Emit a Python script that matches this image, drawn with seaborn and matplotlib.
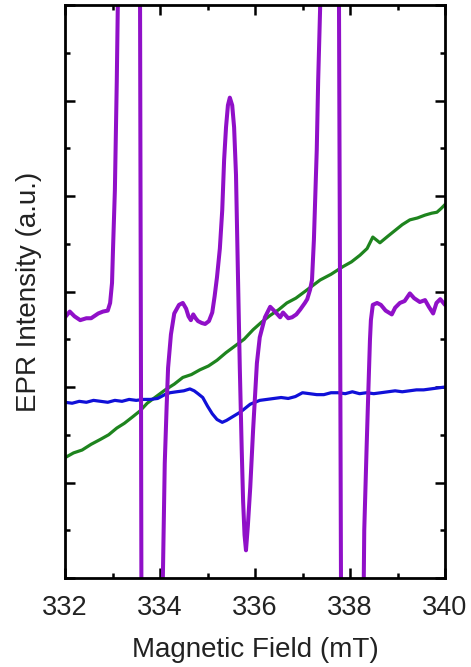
import numpy as np
import pandas as pd
import seaborn as sns
import matplotlib
matplotlib.use("Agg")
from matplotlib import pyplot as plt
from matplotlib.ticker import MultipleLocator

# magnetic field (mT) and intensity (a.u.)
green_x = [332.00, 332.18, 332.36, 332.55, 332.74, 332.92, 333.09, 333.25, 333.43, 333.58,
           333.73, 333.92, 334.11, 334.30, 334.48, 334.66, 334.84, 335.02, 335.20, 335.39,
           335.58, 335.77, 335.96, 336.14, 336.32, 336.50, 336.67, 336.86, 337.05, 337.21,
           337.37, 337.60, 337.85, 338.03, 338.21, 338.36, 338.48, 338.63, 338.80, 338.95,
           339.10, 339.26, 339.42, 339.58, 339.72, 339.83, 339.92, 340.00]
green_y = [1.26, 1.31, 1.34, 1.40, 1.45, 1.50, 1.57, 1.62, 1.69, 1.75,
           1.83, 1.90, 1.97, 2.03, 2.10, 2.13, 2.18, 2.22, 2.28, 2.36,
           2.43, 2.50, 2.60, 2.68, 2.75, 2.81, 2.88, 2.93, 3.00, 3.06,
           3.12, 3.18, 3.26, 3.31, 3.38, 3.45, 3.57, 3.51, 3.58, 3.64,
           3.70, 3.75, 3.77, 3.80, 3.82, 3.83, 3.87, 3.91]

blue_x = [332.00, 332.15, 332.30, 332.45, 332.60, 332.75, 332.90, 333.05, 333.20, 333.35,
          333.50, 333.65, 333.80, 333.95, 334.10, 334.21, 334.35, 334.50, 334.63, 334.72,
          334.80, 334.90, 335.00, 335.10, 335.20, 335.31, 335.40, 335.50, 335.60, 335.70,
          335.80, 335.90, 336.00, 336.10, 336.25, 336.40, 336.55, 336.70, 336.85, 337.00,
          337.15, 337.30, 337.45, 337.60, 337.75, 337.90, 338.05, 338.20, 338.35, 338.50,
          338.65, 338.80, 338.95, 339.10, 339.25, 339.40, 339.55, 339.70, 339.85, 340.00]
blue_y = [1.84, 1.83, 1.85, 1.84, 1.86, 1.85, 1.84, 1.86, 1.85, 1.87,
          1.86, 1.87, 1.87, 1.88, 1.92, 1.94, 1.95, 1.96, 1.98, 1.96,
          1.93, 1.89, 1.80, 1.72, 1.66, 1.63, 1.65, 1.68, 1.71, 1.74,
          1.78, 1.82, 1.84, 1.86, 1.87, 1.88, 1.89, 1.88, 1.90, 1.94,
          1.93, 1.92, 1.92, 1.94, 1.94, 1.93, 1.95, 1.93, 1.94, 1.93,
          1.94, 1.95, 1.96, 1.95, 1.96, 1.97, 1.97, 1.98, 1.99, 2.00]

purple_x = [332.00, 332.10, 332.20, 332.32, 332.45, 332.55, 332.70, 332.80, 332.90, 332.95,
            332.99, 333.01, 333.05, 333.09, 333.12, 333.20, 333.35, 333.50, 333.57, 333.60,
            333.62, 333.70, 333.90, 334.03, 334.06, 334.10, 334.14, 334.17, 334.23, 334.30,
            334.40, 334.48, 334.55, 334.60, 334.65, 334.70, 334.75, 334.80, 334.88, 334.95,
            335.03, 335.10, 335.15, 335.20, 335.26, 335.31, 335.35, 335.39, 335.43, 335.47,
            335.52, 335.56, 335.60, 335.64, 335.68, 335.72, 335.75, 335.78, 335.81, 335.85,
            335.90, 335.96, 336.04, 336.10, 336.21, 336.32, 336.42, 336.53, 336.59, 336.70,
            336.78, 336.87, 336.95, 337.05, 337.10, 337.16, 337.20, 337.24, 337.28, 337.30,
            337.33, 337.37, 337.45, 337.60, 337.75, 337.79, 337.83, 337.95, 338.20, 338.27,
            338.30, 338.35, 338.38, 338.42, 338.44, 338.48, 338.57, 338.65, 338.75, 338.88,
            338.95, 339.05, 339.15, 339.26, 339.35, 339.47, 339.58, 339.66, 339.75, 339.82,
            339.90, 340.00]
purple_y = [2.73, 2.79, 2.74, 2.70, 2.72, 2.72, 2.77, 2.79, 2.80, 2.88,
            3.09, 3.43, 4.06, 5.20, 6.30, 9.00, 11.0, 10.0, 8.00, 2.00,
            -3.0, -5.0, -5.0, -2.0, 0.00, 1.20, 1.80, 2.20, 2.55, 2.77,
            2.86, 2.88, 2.82, 2.74, 2.70, 2.76, 2.72, 2.69, 2.67, 2.66,
            2.69, 2.78, 2.95, 3.15, 3.45, 3.85, 4.38, 4.72, 4.95, 5.03,
            4.95, 4.72, 4.22, 3.20, 2.20, 1.35, 0.80, 0.45, 0.29, 0.55,
            0.95, 1.55, 2.25, 2.52, 2.73, 2.84, 2.79, 2.73, 2.78, 2.72,
            2.73, 2.76, 2.81, 2.88, 2.92, 3.02, 3.12, 3.54, 4.17, 4.48,
            5.21, 5.95, 8.00, 10.5, 8.50, 3.00, -3.0, -5.0, -5.0, -1.0,
            0.50, 1.37, 1.86, 2.49, 2.70, 2.86, 2.88, 2.86, 2.80, 2.76,
            2.83, 2.88, 2.90, 2.98, 2.93, 2.89, 2.91, 2.84, 2.77, 2.88,
            2.92, 2.86]

sns.set_theme(style="ticks")
plt.rcParams['font.family'] = ['Liberation Sans', 'DejaVu Sans']

fig = plt.figure(figsize=(4.71, 6.67), dpi=100)
ax = fig.add_axes([65/471, 89/667, 380/471, 573/667])

for xs, ys, col, lw in [(green_x, green_y, '#1E841E', 2.3),
                        (blue_x, blue_y, '#1010D8', 2.3),
                        (purple_x, purple_y, '#9010C8', 2.9)]:
    df = pd.DataFrame({"field": xs, "intensity": ys})
    sns.lineplot(data=df, x="field", y="intensity", color=col, lw=lw,
                 estimator=None, sort=False, ax=ax)

ax.set_xlim(332, 340)
ax.set_ylim(0, 6)
ax.xaxis.set_major_locator(MultipleLocator(2))
ax.xaxis.set_minor_locator(MultipleLocator(1))
ax.yaxis.set_major_locator(MultipleLocator(1))
ax.yaxis.set_minor_locator(MultipleLocator(0.5))
ax.tick_params(which='both', direction='in', top=True, right=True, width=1.8,
               color='black')
ax.tick_params(which='major', length=7)
ax.tick_params(which='minor', length=3.6)
ax.tick_params(axis='x', labelsize=19.5, pad=12, labelcolor='#222222')
ax.tick_params(axis='y', labelleft=False)
for s in ax.spines.values():
    s.set_linewidth(2)
    s.set_color('black')

ax.set_xlabel("Magnetic Field (mT)", fontsize=20, labelpad=12, color='#222222')
ax.set_ylabel("EPR Intensity (a.u.)", fontsize=20, labelpad=13, color='#222222')

fig.savefig("out.png", dpi=100)
plt.close(fig)
